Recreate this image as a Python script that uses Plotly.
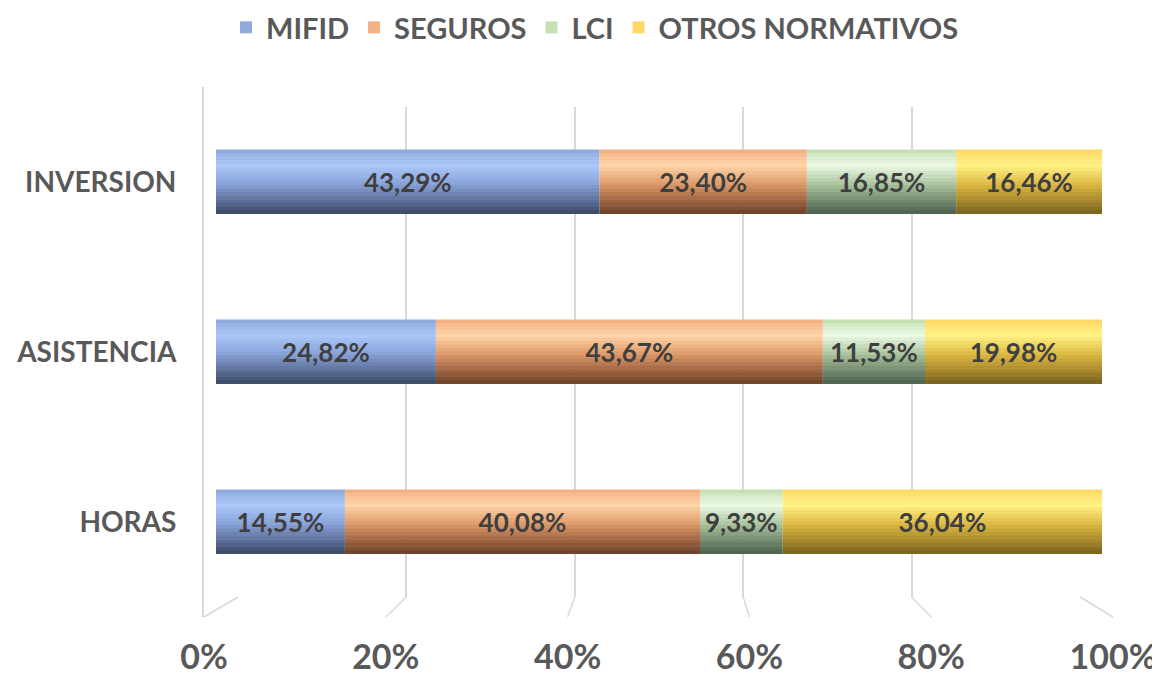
import plotly.graph_objects as go

# ---------------- data ----------------
categories = ["HORAS", "ASISTENCIA", "INVERSION"]
series_names = ["MIFID", "SEGUROS", "LCI", "OTROS NORMATIVOS"]
mifid = [14.55, 24.82, 43.29]
seguros = [40.08, 43.67, 23.40]
lci = [9.33, 11.53, 16.85]
otros = [36.04, 19.98, 16.46]
tick_vals = [0, 20, 40, 60, 80, 100]
tick_text = ["0%", "20%", "40%", "60%", "80%", "100%"]

series_values = [mifid, seguros, lci, otros]

# colour stops (top edge -> highlight -> mid -> shade -> bottom)
gradients = [
    ["#8faadc", "#abc7f8", "#87a1d6", "#5c6f98", "#394764"],
    ["#f4b183", "#ffd4a8", "#dc9868", "#9e6442", "#6b4128"],
    ["#c5e0b4", "#ecf9e4", "#a9c39d", "#738a6f", "#4c614d"],
    ["#ffd966", "#fff284", "#dcb843", "#a8882c", "#77601f"],
]
stops = [0.0, 0.25, 0.55, 0.8, 1.0]


def hex2rgb(h):
    h = h.lstrip("#")
    return [int(h[i:i + 2], 16) for i in (0, 2, 4)]


def color_at(cols, t):
    for i in range(len(stops) - 1):
        if stops[i] <= t <= stops[i + 1]:
            f = (t - stops[i]) / (stops[i + 1] - stops[i])
            a, b = hex2rgb(cols[i]), hex2rgb(cols[i + 1])
            c = [round(a[j] + (b[j] - a[j]) * f) for j in range(3)]
            return "rgb(%d,%d,%d)" % tuple(c)
    return cols[-1]


OFF = 8                      # page body margin of the html page
W, H = 1160 - OFF, 680 - OFF
FONT = "Lato"
GREY = "#595959"
GRID = "#d9d9d9"
BAR_H = 0.376
N_BANDS = 18

fig = go.Figure()

# perspective floor lines (back grid -> front label position), page px
gx0, gx1 = 238, 1080      # back-wall grid extent
lx0, lx1 = 204, 1113      # front label extent
back_y, front_y = 597, 617
fx, fy = [], []
for v in tick_vals:
    fx += [gx0 + (gx1 - gx0) * v / 100 - OFF, lx0 + (lx1 - lx0) * v / 100 - OFF, None]
    fy += [back_y - OFF, front_y - OFF, None]
fig.add_trace(go.Scatter(x=fx, y=fy, mode="lines", xaxis="x", yaxis="y",
                         line=dict(color=GRID, width=1.5),
                         showlegend=False, hoverinfo="skip"))

# invisible anchors so the helper axes are drawn
for xa, ya in (("x2", "y2"), ("x3", "y3")):
    fig.add_trace(go.Scatter(x=[0, 100], y=[0, 1], mode="markers",
                             marker=dict(opacity=0), xaxis=xa, yaxis=ya,
                             showlegend=False, hoverinfo="skip"))

# cumulative bases
bases = []
run = [0.0] * len(categories)
for vals in series_values:
    bases.append(list(run))
    run = [run[i] + vals[i] for i in range(len(categories))]

for s, (name, vals) in enumerate(zip(series_names, series_values)):
    for k in range(N_BANDS):
        t = (k + 0.5) / N_BANDS
        col = gradients[s][0] if k == 0 else color_at(gradients[s], t)
        fig.add_trace(go.Bar(
            y=categories, x=vals, base=bases[s], orientation="h",
            width=BAR_H / N_BANDS * 1.15,
            offset=BAR_H / 2 - (k + 1) * BAR_H / N_BANDS,
            marker=dict(color=col, line=dict(width=0)),
            name=name, legendgroup=name, showlegend=(k == 0),
            hoverinfo="skip", xaxis="x4", yaxis="y4",
        ))

# labels on top
for s, (name, vals) in enumerate(zip(series_names, series_values)):
    fig.add_trace(go.Bar(
        y=categories, x=vals, base=bases[s], orientation="h",
        width=BAR_H, offset=-BAR_H / 2,
        marker=dict(color="rgba(0,0,0,0)", line=dict(width=0)),
        text=[("%.2f%%" % v).replace(".", ",") for v in vals],
        textposition="inside", insidetextanchor="middle",
        textangle=0, constraintext="none",
        textfont=dict(family=FONT, size=26, color="#3f3f3f", weight="bold"),
        showlegend=False, hoverinfo="skip", xaxis="x4", yaxis="y4",
    ))


def dom_x(a, b):
    return [(a - OFF) / W, (b - OFF) / W]


def dom_y(top, bottom):
    return [1 - (bottom - OFF) / H, 1 - (top - OFF) / H]


fig.update_layout(
    width=W, height=H,
    margin=dict(l=0, r=0, t=0, b=0, autoexpand=False),
    paper_bgcolor="white", plot_bgcolor="rgba(0,0,0,0)",
    barmode="overlay",
    font=dict(family=FONT, color=GREY),
    legend=dict(orientation="h", x=(595 - OFF) / W, xanchor="center",
                y=1 + 6 / H, yanchor="top",
                font=dict(size=29, color=GREY, weight="bold"),
                itemwidth=30, traceorder="normal", tracegroupgap=0),
    # pixel space for floor lines
    xaxis=dict(domain=[0, 1], range=[0, W], anchor="y", visible=False,
               automargin=False),
    yaxis=dict(domain=[0, 1], range=[H, 0], anchor="x", visible=False,
               automargin=False),
    # back wall gridlines
    xaxis2=dict(domain=dom_x(gx0, gx1), range=[0, 100], anchor="y2",
                tickvals=tick_vals, showticklabels=False,
                showgrid=True, gridcolor=GRID, gridwidth=1.5,
                zeroline=False, automargin=False),
    yaxis2=dict(domain=dom_y(107, back_y), range=[0, 1], anchor="x2",
                showgrid=False, showticklabels=False, zeroline=False,
                automargin=False),
    # front labels + left wall
    xaxis3=dict(domain=dom_x(lx0, lx1), range=[0, 100], anchor="y3",
                tickvals=tick_vals, ticktext=tick_text, showgrid=False,
                zeroline=False, ticks="outside", ticklen=10,
                tickcolor="rgba(0,0,0,0)", automargin=False,
                tickfont=dict(size=34, color=GREY, weight="bold")),
    yaxis3=dict(domain=dom_y(87, front_y), range=[0, 1], anchor="x3",
                showgrid=False, showticklabels=False, zeroline=False,
                showline=True, linecolor=GRID, linewidth=1.5,
                automargin=False),
    # bars
    xaxis4=dict(domain=dom_x(216, 1102), range=[0, 100], showgrid=False,
                showticklabels=False, zeroline=False, anchor="y4",
                automargin=False),
    yaxis4=dict(domain=dom_y(97, 607), range=[-0.5, 2.5], anchor="x4",
                type="category", categoryorder="array",
                categoryarray=categories,
                showgrid=False, zeroline=False, ticks="outside", ticklen=33,
                tickcolor="rgba(0,0,0,0)", automargin=False,
                tickfont=dict(size=28, color=GREY, weight="bold")),
)

fig.write_html("out.html")
